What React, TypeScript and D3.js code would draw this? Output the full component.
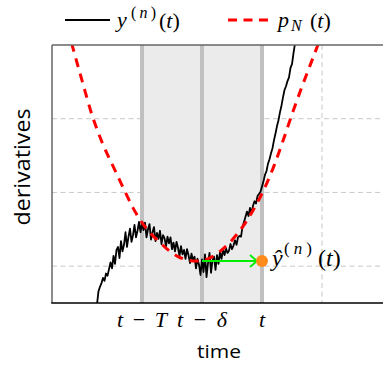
import React, { useRef, useEffect } from "react";
import * as d3 from "d3";

const W = 383;
const H = 365;

// time axis in arbitrary units; derivative values in arbitrary units
const tickTimes = [30, 50, 70];
const tickLabels: [string, boolean][][] = [
  [["t", true], [" − ", false], ["T", true]],
  [["t", true], [" − ", false], ["δ", true]],
  [["t", true]],
];
const gridTimes = [30, 50, 70, 90];
const gridValues = [0, 10, 20];

const windowStart = 30; // t - T
const windowDelta = 50; // t - delta
const windowEnd = 70; // t

// noisy measured derivative y^(n)
const ynStart = 15;
const ynStep = 0.5;
const ynValues = [
  -5.2, -3.4, -2.8, -2.3, -1.6, -2.0, -1.0, -1.3, -0.4, 0.5,
  -0.3, 1.4, 0.3, 2.2, 2.6, 1.1, 3.4, 2.0, 2.9, 4.6,
  2.6, 4.0, 5.1, 3.3, 4.2, 5.6, 3.9, 4.8, 6.0, 4.6,
  5.8, 4.9, 5.9, 3.9, 5.0, 5.7, 3.6, 4.6, 5.3, 3.4,
  4.5, 3.7, 4.8, 3.0, 4.2, 3.8, 2.7, 4.0, 3.1, 3.9,
  2.3, 3.2, 2.0, 3.3, 2.5, 1.4, 2.7, 1.6, 2.2, 1.0,
  2.3, 1.5, 0.4, 1.7, 0.8, 1.3, -0.3, 1.0, 0.2, -1.2,
  0.9, -0.8, 1.6, -1.5, 0.4, 1.8, -0.9, 0.8, 1.3, -0.5,
  1.5, 0.3, 1.9, 1.0, 2.2, 1.5, 2.4, 1.8, 2.1, 3.0,
  2.3, 2.8, 3.5, 2.9, 3.9, 4.1, 4.0, 5.3, 6.0, 6.7,
  7.4, 6.8, 7.9, 7.2, 8.2, 8.8, 8.5, 9.5, 9.8, 10.1,
  10.8, 11.5, 12.4, 12.9, 13.9, 14.5, 15.3, 16.0, 17.1, 18.0,
  19.0, 19.8, 20.9, 21.8, 22.9, 23.9, 24.4, 25.1, 25.6, 26.9,
  27.4, 28.9, 30.2,
];

// fitted polynomial p_N
const pnTime = [6.5, 10, 13.5, 17, 21, 24, 27, 30, 33, 36, 39, 42, 45, 48, 50, 53, 56, 59, 62, 65, 68, 71, 74, 77, 80, 83, 86, 89];
const pnValue = [30.3, 25.2, 20.3, 16.5, 13.0, 10.4, 7.9, 5.9, 4.4, 3.2, 2.1, 1.3, 0.85, 0.7, 0.75, 1.2, 2.0, 3.1, 4.5, 6.2, 8.3, 10.7, 13.6, 17.0, 20.6, 24.0, 27.2, 30.4];

// prediction arrow
const predFrom = 50;
const predTo = 70;
const predValue = 0.7;

type Seg = [string, boolean];

export default function App() {
  const ref = useRef<SVGSVGElement>(null);

  useEffect(() => {
    if (!ref.current) return;
    const svg = d3.select(ref.current);
    svg.selectAll("*").remove();

    const margin = { top: 45, right: 1, bottom: 62, left: 52 };
    const x = d3.scaleLinear().domain([0, 110]).range([margin.left, W - margin.right]);
    const y = d3.scaleLinear().domain([-5, 30]).range([H - margin.bottom, margin.top]);
    const serif = "'Liberation Serif', 'Times New Roman', serif";
    const sans = "'Open Sans', 'DejaVu Sans', sans-serif";

    const mathText = (
      px: number, py: number, size: number, segs: Seg[], anchor = "start", len?: number
    ) => {
      const t = svg.append("text")
        .attr("x", px).attr("y", py)
        .attr("font-family", serif)
        .attr("font-size", size)
        .attr("text-anchor", anchor)
        .attr("fill", "#000");
      if (len) t.attr("textLength", len).attr("lengthAdjust", "spacing");
      segs.forEach(([s, it]) => {
        t.append("tspan").attr("font-style", it ? "italic" : "normal").text(s);
      });
      return t;
    };

    const defs = svg.append("defs");
    defs.append("clipPath").attr("id", "plotclip")
      .append("rect")
      .attr("x", margin.left).attr("y", margin.top)
      .attr("width", W - margin.left).attr("height", H - margin.bottom - margin.top);

    const plot = svg.append("g").attr("clip-path", "url(#plotclip)");

    // grid
    plot.selectAll(".hgrid").data(gridValues).enter().append("line")
      .attr("x1", margin.left).attr("x2", W)
      .attr("y1", d => y(d)).attr("y2", d => y(d))
      .attr("stroke", "#c8c8c8").attr("stroke-width", 1)
      .attr("stroke-dasharray", "5,3.5");
    plot.selectAll(".vgrid").data(gridTimes).enter().append("line")
      .attr("x1", d => x(d)).attr("x2", d => x(d))
      .attr("y1", margin.top).attr("y2", H - margin.bottom)
      .attr("stroke", "#c8c8c8").attr("stroke-width", 1)
      .attr("stroke-dasharray", "5,3.5");

    // shaded window
    plot.append("rect")
      .attr("x", x(windowStart)).attr("y", margin.top)
      .attr("width", x(windowEnd) - x(windowStart))
      .attr("height", H - margin.bottom - margin.top)
      .attr("fill", "#ebebeb");
    plot.selectAll(".wline").data([windowStart, windowDelta, windowEnd]).enter().append("line")
      .attr("x1", d => x(d)).attr("x2", d => x(d))
      .attr("y1", margin.top).attr("y2", H - margin.bottom)
      .attr("stroke", "#c0c0c0").attr("stroke-width", 4);

    // y^(n)
    const ynData = ynValues.map((v, i) => [ynStart + i * ynStep, v] as [number, number]);
    plot.append("path")
      .datum(ynData)
      .attr("fill", "none")
      .attr("stroke", "#000")
      .attr("stroke-width", 1.8)
      .attr("stroke-linejoin", "round")
      .attr("d", d3.line<[number, number]>().x(d => x(d[0])).y(d => y(d[1])));

    // p_N
    const pnData = pnTime.map((t, i) => [t, pnValue[i]] as [number, number]);
    plot.append("path")
      .datum(pnData)
      .attr("fill", "none")
      .attr("stroke", "#ff0000")
      .attr("stroke-width", 3)
      .attr("stroke-dasharray", "9,7")
      .attr("d", d3.line<[number, number]>().x(d => x(d[0])).y(d => y(d[1])).curve(d3.curveMonotoneX));

    // arrow
    const ay = y(predValue);
    const ax2 = x(predTo) - 5;
    plot.append("line")
      .attr("x1", x(predFrom)).attr("x2", ax2)
      .attr("y1", ay).attr("y2", ay)
      .attr("stroke", "#00ee00").attr("stroke-width", 2);
    plot.append("path")
      .attr("d", `M${ax2 - 7},${ay - 6} L${ax2},${ay} L${ax2 - 7},${ay + 6}`)
      .attr("fill", "none").attr("stroke", "#00ee00").attr("stroke-width", 1.8);
    plot.append("circle")
      .attr("cx", x(predTo)).attr("cy", ay).attr("r", 6)
      .attr("fill", "#ff8c1a");

    // frame
    svg.append("line").attr("x1", margin.left).attr("x2", W)
      .attr("y1", margin.top).attr("y2", margin.top)
      .attr("stroke", "#666").attr("stroke-width", 1.5);
    svg.append("line").attr("x1", margin.left).attr("x2", margin.left)
      .attr("y1", margin.top).attr("y2", H - margin.bottom)
      .attr("stroke", "#666").attr("stroke-width", 1.5);
    svg.append("line").attr("x1", margin.left - 0.75).attr("x2", W)
      .attr("y1", H - margin.bottom).attr("y2", H - margin.bottom)
      .attr("stroke", "#000").attr("stroke-width", 1.5);

    // tick labels
    tickTimes.forEach((t, i) => {
      const segs = tickLabels[i];
      mathText(x(t), 327, 22, segs, "middle", segs.length > 1 ? 50 : undefined);
    });

    // axis titles
    svg.append("text")
      .attr("x", 219).attr("y", 358)
      .attr("text-anchor", "middle")
      .attr("font-family", sans).attr("font-size", 19)
      .attr("textLength", 44).attr("lengthAdjust", "spacingAndGlyphs")
      .text("time");
    svg.append("text")
      .attr("transform", "translate(30,167) rotate(-90)")
      .attr("text-anchor", "middle")
      .attr("font-family", sans).attr("font-size", 22)
      .attr("textLength", 117).attr("lengthAdjust", "spacingAndGlyphs")
      .text("derivatives");

    // legend
    svg.append("line").attr("x1", 65).attr("x2", 110).attr("y1", 20).attr("y2", 20)
      .attr("stroke", "#000").attr("stroke-width", 2);
    mathText(117, 27, 22, [["y", true]]);
    mathText(131, 18, 16, [["(", false], ["n", true], [")", false]], "start", 25);
    mathText(159, 28, 22, [["(", false], ["t", true], [")", false]]);
    svg.append("line").attr("x1", 228).attr("x2", 268).attr("y1", 20).attr("y2", 20)
      .attr("stroke", "#ff0000").attr("stroke-width", 3).attr("stroke-dasharray", "9,6.5");
    mathText(278, 27, 22, [["p", true]]);
    mathText(291, 31, 16, [["N", true]]);
    mathText(310, 28, 22, [["(", false], ["t", true], [")", false]]);

    // prediction label
    mathText(272, 266, 24, [["ŷ", true]]);
    mathText(284, 254, 17, [["(", false], ["n", true], [")", false]], "start", 28);
    mathText(318, 266, 24, [["(", false], ["t", true], [")", false]]);
  }, []);

  return (
    <svg
      ref={ref}
      width={W}
      height={H}
      style={{ position: "absolute", left: 0, top: 0, background: "#fff" }}
    />
  );
}
